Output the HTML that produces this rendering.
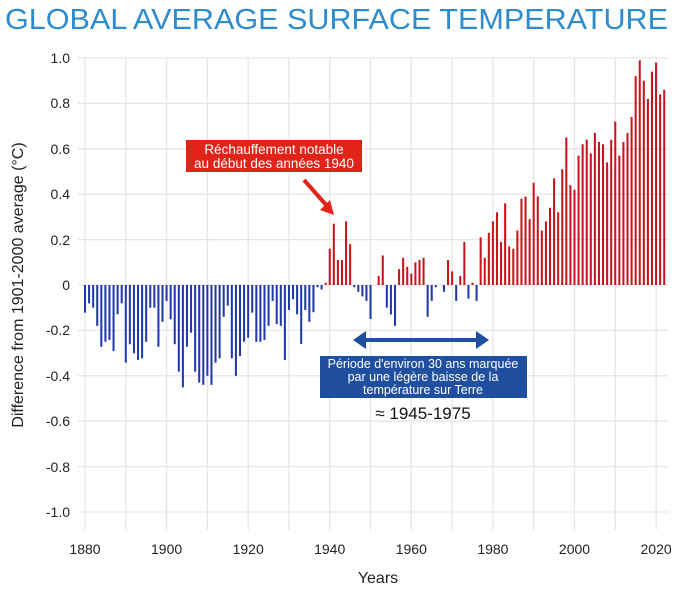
<!DOCTYPE html>
<html><head><meta charset="utf-8"><style>body{margin:0;background:#fff}svg{display:block}text{font-family:"Liberation Sans",sans-serif}</style></head><body>
<svg width="700" height="600" viewBox="0 0 700 600">
<text x="5" y="29" font-size="29" fill="#2f8ccc" textLength="663" lengthAdjust="spacingAndGlyphs">GLOBAL AVERAGE SURFACE TEMPERATURE</text>
<g stroke="#e6e6e6" stroke-width="1.3">
<line x1="78" x2="668" y1="58" y2="58"/><line x1="78" x2="668" y1="103.4" y2="103.4"/><line x1="78" x2="668" y1="148.8" y2="148.8"/><line x1="78" x2="668" y1="194.2" y2="194.2"/><line x1="78" x2="668" y1="239.6" y2="239.6"/><line x1="78" x2="668" y1="285" y2="285"/><line x1="78" x2="668" y1="330.4" y2="330.4"/><line x1="78" x2="668" y1="375.8" y2="375.8"/><line x1="78" x2="668" y1="421.2" y2="421.2"/><line x1="78" x2="668" y1="466.6" y2="466.6"/><line x1="78" x2="668" y1="512" y2="512"/>
<line x1="85" x2="85" y1="58" y2="530"/><line x1="125.8" x2="125.8" y1="58" y2="530"/><line x1="166.6" x2="166.6" y1="58" y2="530"/><line x1="207.4" x2="207.4" y1="58" y2="530"/><line x1="248.2" x2="248.2" y1="58" y2="530"/><line x1="288.9" x2="288.9" y1="58" y2="530"/><line x1="329.7" x2="329.7" y1="58" y2="530"/><line x1="370.5" x2="370.5" y1="58" y2="530"/><line x1="411.3" x2="411.3" y1="58" y2="530"/><line x1="452.1" x2="452.1" y1="58" y2="530"/><line x1="492.9" x2="492.9" y1="58" y2="530"/><line x1="533.7" x2="533.7" y1="58" y2="530"/><line x1="574.5" x2="574.5" y1="58" y2="530"/><line x1="615.3" x2="615.3" y1="58" y2="530"/><line x1="656.1" x2="656.1" y1="58" y2="530"/>
</g>
<g transform="translate(85,285) scale(4.079,-227)">
<g fill="#2338a8">
<rect x="-0.25" width="0.5" y="-0.122" height="0.122"/><rect x="0.75" width="0.5" y="-0.081" height="0.081"/><rect x="1.75" width="0.5" y="-0.10" height="0.10"/><rect x="2.75" width="0.5" y="-0.18" height="0.18"/><rect x="3.75" width="0.5" y="-0.272" height="0.272"/><rect x="4.75" width="0.5" y="-0.25" height="0.25"/><rect x="5.75" width="0.5" y="-0.242" height="0.242"/><rect x="6.75" width="0.5" y="-0.291" height="0.291"/><rect x="7.75" width="0.5" y="-0.129" height="0.129"/><rect x="8.75" width="0.5" y="-0.081" height="0.081"/>
<rect x="9.75" width="0.5" y="-0.342" height="0.342"/><rect x="10.75" width="0.5" y="-0.261" height="0.261"/><rect x="11.75" width="0.5" y="-0.301" height="0.301"/><rect x="12.75" width="0.5" y="-0.33" height="0.33"/><rect x="13.75" width="0.5" y="-0.323" height="0.323"/><rect x="14.75" width="0.5" y="-0.25" height="0.25"/><rect x="15.75" width="0.5" y="-0.10" height="0.10"/><rect x="16.75" width="0.5" y="-0.10" height="0.10"/><rect x="17.75" width="0.5" y="-0.272" height="0.272"/><rect x="18.75" width="0.5" y="-0.162" height="0.162"/>
<rect x="19.75" width="0.5" y="-0.07" height="0.07"/><rect x="20.75" width="0.5" y="-0.151" height="0.151"/><rect x="21.75" width="0.5" y="-0.261" height="0.261"/><rect x="22.75" width="0.5" y="-0.382" height="0.382"/><rect x="23.75" width="0.5" y="-0.451" height="0.451"/><rect x="24.75" width="0.5" y="-0.272" height="0.272"/><rect x="25.75" width="0.5" y="-0.21" height="0.21"/><rect x="26.75" width="0.5" y="-0.382" height="0.382"/><rect x="27.75" width="0.5" y="-0.43" height="0.43"/><rect x="28.75" width="0.5" y="-0.44" height="0.44"/>
<rect x="29.75" width="0.5" y="-0.40" height="0.40"/><rect x="30.75" width="0.5" y="-0.44" height="0.44"/><rect x="31.75" width="0.5" y="-0.342" height="0.342"/><rect x="32.75" width="0.5" y="-0.323" height="0.323"/><rect x="33.75" width="0.5" y="-0.14" height="0.14"/><rect x="34.75" width="0.5" y="-0.091" height="0.091"/><rect x="35.75" width="0.5" y="-0.323" height="0.323"/><rect x="36.75" width="0.5" y="-0.40" height="0.40"/><rect x="37.75" width="0.5" y="-0.313" height="0.313"/><rect x="38.75" width="0.5" y="-0.25" height="0.25"/>
<rect x="39.75" width="0.5" y="-0.232" height="0.232"/><rect x="40.75" width="0.5" y="-0.122" height="0.122"/><rect x="41.75" width="0.5" y="-0.25" height="0.25"/><rect x="42.75" width="0.5" y="-0.25" height="0.25"/><rect x="43.75" width="0.5" y="-0.242" height="0.242"/><rect x="44.75" width="0.5" y="-0.18" height="0.18"/><rect x="45.75" width="0.5" y="-0.07" height="0.07"/><rect x="46.75" width="0.5" y="-0.172" height="0.172"/><rect x="47.75" width="0.5" y="-0.18" height="0.18"/><rect x="48.75" width="0.5" y="-0.33" height="0.33"/>
<rect x="49.75" width="0.5" y="-0.11" height="0.11"/><rect x="50.75" width="0.5" y="-0.063" height="0.063"/><rect x="51.75" width="0.5" y="-0.129" height="0.129"/><rect x="52.75" width="0.5" y="-0.26" height="0.26"/><rect x="53.75" width="0.5" y="-0.11" height="0.11"/><rect x="54.75" width="0.5" y="-0.162" height="0.162"/><rect x="55.75" width="0.5" y="-0.12" height="0.12"/><rect x="56.75" width="0.5" y="-0.01" height="0.01"/><rect x="57.75" width="0.5" y="-0.02" height="0.02"/>
<rect x="65.75" width="0.5" y="-0.01" height="0.01"/><rect x="66.75" width="0.5" y="-0.03" height="0.03"/><rect x="67.75" width="0.5" y="-0.05" height="0.05"/><rect x="68.75" width="0.5" y="-0.07" height="0.07"/><rect x="69.75" width="0.5" y="-0.15" height="0.15"/>
<rect x="73.75" width="0.5" y="-0.10" height="0.10"/><rect x="74.75" width="0.5" y="-0.13" height="0.13"/><rect x="75.75" width="0.5" y="-0.18" height="0.18"/>
<rect x="83.75" width="0.5" y="-0.14" height="0.14"/><rect x="84.75" width="0.5" y="-0.07" height="0.07"/><rect x="85.75" width="0.5" y="-0.01" height="0.01"/><rect x="87.75" width="0.5" y="-0.03" height="0.03"/><rect x="90.75" width="0.5" y="-0.07" height="0.07"/><rect x="93.75" width="0.5" y="-0.06" height="0.06"/><rect x="95.75" width="0.5" y="-0.07" height="0.07"/>
</g>
<g fill="#c8141c">
<rect x="58.75" width="0.5" y="0" height="0.01"/><rect x="59.75" width="0.5" y="0" height="0.16"/><rect x="60.75" width="0.5" y="0" height="0.27"/><rect x="61.75" width="0.5" y="0" height="0.11"/><rect x="62.75" width="0.5" y="0" height="0.11"/><rect x="63.75" width="0.5" y="0" height="0.28"/><rect x="64.75" width="0.5" y="0" height="0.18"/>
<rect x="71.75" width="0.5" y="0" height="0.04"/><rect x="72.75" width="0.5" y="0" height="0.13"/>
<rect x="76.75" width="0.5" y="0" height="0.07"/><rect x="77.75" width="0.5" y="0" height="0.12"/><rect x="78.75" width="0.5" y="0" height="0.08"/><rect x="79.75" width="0.5" y="0" height="0.05"/><rect x="80.75" width="0.5" y="0" height="0.10"/><rect x="81.75" width="0.5" y="0" height="0.11"/><rect x="82.75" width="0.5" y="0" height="0.12"/>
<rect x="88.75" width="0.5" y="0" height="0.11"/><rect x="89.75" width="0.5" y="0" height="0.06"/><rect x="91.75" width="0.5" y="0" height="0.04"/><rect x="92.75" width="0.5" y="0" height="0.19"/><rect x="94.75" width="0.5" y="0" height="0.01"/>
<rect x="96.75" width="0.5" y="0" height="0.21"/><rect x="97.75" width="0.5" y="0" height="0.12"/><rect x="98.75" width="0.5" y="0" height="0.23"/><rect x="99.75" width="0.5" y="0" height="0.28"/><rect x="100.75" width="0.5" y="0" height="0.32"/><rect x="101.75" width="0.5" y="0" height="0.19"/><rect x="102.75" width="0.5" y="0" height="0.36"/><rect x="103.75" width="0.5" y="0" height="0.17"/><rect x="104.75" width="0.5" y="0" height="0.16"/><rect x="105.75" width="0.5" y="0" height="0.24"/>
<rect x="106.75" width="0.5" y="0" height="0.38"/><rect x="107.75" width="0.5" y="0" height="0.39"/><rect x="108.75" width="0.5" y="0" height="0.29"/><rect x="109.75" width="0.5" y="0" height="0.45"/><rect x="110.75" width="0.5" y="0" height="0.39"/><rect x="111.75" width="0.5" y="0" height="0.24"/><rect x="112.75" width="0.5" y="0" height="0.28"/><rect x="113.75" width="0.5" y="0" height="0.34"/><rect x="114.75" width="0.5" y="0" height="0.47"/><rect x="115.75" width="0.5" y="0" height="0.32"/>
<rect x="116.75" width="0.5" y="0" height="0.51"/><rect x="117.75" width="0.5" y="0" height="0.65"/><rect x="118.75" width="0.5" y="0" height="0.44"/><rect x="119.75" width="0.5" y="0" height="0.42"/><rect x="120.75" width="0.5" y="0" height="0.57"/><rect x="121.75" width="0.5" y="0" height="0.62"/><rect x="122.75" width="0.5" y="0" height="0.64"/><rect x="123.75" width="0.5" y="0" height="0.58"/><rect x="124.75" width="0.5" y="0" height="0.67"/><rect x="125.75" width="0.5" y="0" height="0.63"/>
<rect x="126.75" width="0.5" y="0" height="0.62"/><rect x="127.75" width="0.5" y="0" height="0.54"/><rect x="128.75" width="0.5" y="0" height="0.64"/><rect x="129.75" width="0.5" y="0" height="0.72"/><rect x="130.75" width="0.5" y="0" height="0.57"/><rect x="131.75" width="0.5" y="0" height="0.63"/><rect x="132.75" width="0.5" y="0" height="0.67"/><rect x="133.75" width="0.5" y="0" height="0.74"/><rect x="134.75" width="0.5" y="0" height="0.92"/><rect x="135.75" width="0.5" y="0" height="0.99"/>
<rect x="136.75" width="0.5" y="0" height="0.90"/><rect x="137.75" width="0.5" y="0" height="0.82"/><rect x="138.75" width="0.5" y="0" height="0.94"/><rect x="139.75" width="0.5" y="0" height="0.98"/><rect x="140.75" width="0.5" y="0" height="0.84"/><rect x="141.75" width="0.5" y="0" height="0.86"/>
</g>
</g>
<g font-size="14" fill="#222" text-anchor="end">
<text x="70" y="63">1.0</text><text x="70" y="108">0.8</text><text x="70" y="154">0.6</text><text x="70" y="199">0.4</text><text x="70" y="245">0.2</text><text x="70" y="290">0</text><text x="70" y="335">-0.2</text><text x="70" y="381">-0.4</text><text x="70" y="426">-0.6</text><text x="70" y="472">-0.8</text><text x="70" y="517">-1.0</text>
</g>
<g font-size="14" fill="#222" text-anchor="middle">
<text x="85" y="554">1880</text><text x="166.6" y="554">1900</text><text x="248.2" y="554">1920</text><text x="329.7" y="554">1940</text><text x="411.3" y="554">1960</text><text x="492.9" y="554">1980</text><text x="574.5" y="554">2000</text><text x="656.1" y="554">2020</text>
</g>
<text x="378" y="583" font-size="16" fill="#222" text-anchor="middle">Years</text>
<text transform="translate(23,285) rotate(-90)" font-size="16" fill="#222" text-anchor="middle">Difference from 1901-2000 average (°C)</text>
<rect x="186" y="140" width="176" height="32" fill="#e2231a"/>
<text x="274" y="154" font-size="13.5" fill="#fff" text-anchor="middle">Réchauffement notable</text>
<text x="274" y="168" font-size="13.5" fill="#fff" text-anchor="middle">au début des années 1940</text>
<line x1="304" y1="180" x2="328" y2="207" stroke="#e2231a" stroke-width="4"/>
<polygon points="334,215 320,210 330,200" fill="#e2231a"/>
<line x1="362" y1="340" x2="480" y2="340" stroke="#1f4f9e" stroke-width="4"/>
<polygon points="353,340 366,331 366,349" fill="#1f4f9e"/>
<polygon points="489,340 476,331 476,349" fill="#1f4f9e"/>
<rect x="320" y="356" width="207" height="42" fill="#1f4f9e"/>
<text x="423" y="368" font-size="12.5" fill="#fff" text-anchor="middle">Période d'environ 30 ans marquée</text>
<text x="423" y="381" font-size="12.5" fill="#fff" text-anchor="middle">par une légère baisse de la</text>
<text x="423" y="394" font-size="12.5" fill="#fff" text-anchor="middle">température sur Terre</text>
<text x="423" y="419" font-size="17" fill="#111" text-anchor="middle">≈ 1945-1975</text>
</svg>
</body></html>
